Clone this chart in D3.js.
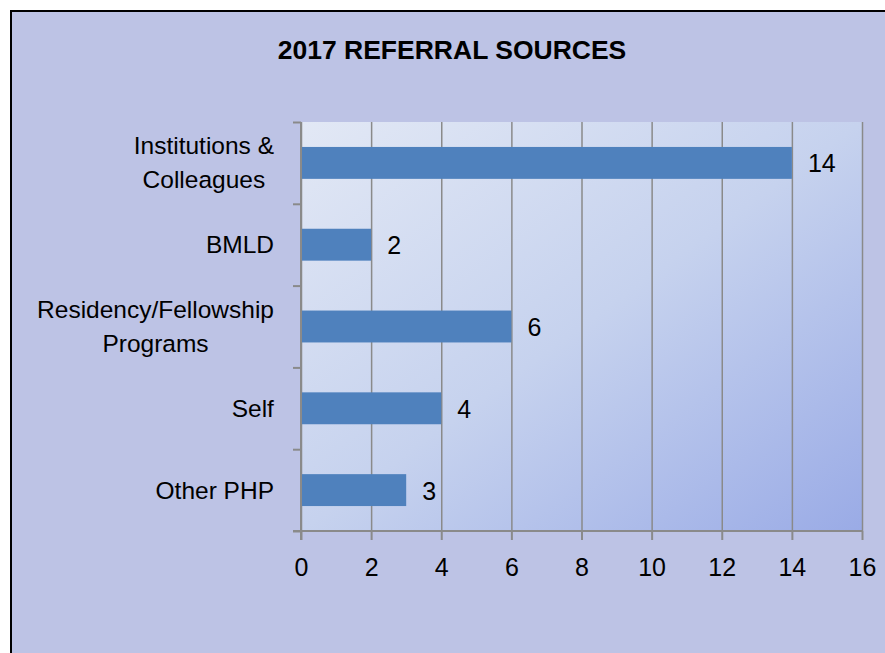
<!DOCTYPE html>
<html>
<head>
<meta charset="utf-8">
<script src="https://cdn.jsdelivr.net/npm/d3@7"></script>
<style>
  body { margin: 0; background: #fff; }
  svg { display: block; font-family: "Liberation Sans", Arial, sans-serif; }
</style>
</head>
<body>
<div id="chart"></div>
<script>
(function(){

  // data
  var title = "2017 REFERRAL SOURCES"
  var categories = ["Institutions &\nColleagues", "BMLD", "Residency/Fellowship\nPrograms", "Self", "Other PHP"]
  var values = [14, 2, 6, 4, 3]
  var xTicks = [0, 2, 4, 6, 8, 10, 12, 14, 16]

  var W = 885, H = 653
  var plot = { left: 301, right: 862, top: 122, bottom: 531 }

  var svg = d3.select("#chart").append("svg")
        .attr("width", W)
        .attr("height", H)

  var defs = svg.append("defs")
  var grad = defs.append("linearGradient")
        .attr("id", "plotGrad")
        .attr("x1", "0").attr("y1", "0")
        .attr("x2", "1").attr("y2", "1")
  grad.append("stop").attr("offset", "0").attr("stop-color", "#e2e8f5")
  grad.append("stop").attr("offset", "0.5").attr("stop-color", "#c6d2ee")
  grad.append("stop").attr("offset", "1").attr("stop-color", "#9aabe6")

  // outer frame
  svg.append("rect")
    .attr("x", 11).attr("y", 11)
    .attr("width", W).attr("height", H)
    .attr("fill", "#bdc3e5")
    .attr("stroke", "#000")
    .attr("stroke-width", 2)

  svg.append("text")
    .attr("x", 452)
    .attr("y", 59)
    .attr("text-anchor", "middle")
    .attr("font-weight", "bold")
    .attr("font-size", "26.5px")
    .attr("fill", "#000")
    .text(title)

  var x = d3.scaleLinear().domain([0, 16]).range([plot.left, plot.right])
  var y = d3.scaleBand().domain(categories)
        .range([plot.top, plot.bottom])
        .paddingInner(0.61).paddingOuter(0.305)

  svg.append("rect")
    .attr("x", plot.left).attr("y", plot.top)
    .attr("width", plot.right - plot.left)
    .attr("height", plot.bottom - plot.top)
    .attr("fill", "url(#plotGrad)")

  // vertical gridlines
  svg.append("g")
    .attr("transform", "translate(0," + plot.top + ")")
    .call(d3.axisBottom(x).tickValues(xTicks).tickSize(plot.bottom - plot.top).tickFormat(""))
    .call(function(g){
      g.select(".domain").remove()
      g.selectAll("line").attr("stroke", "#8a8a8a").attr("stroke-width", 1.5)
    })

  // bars
  svg.selectAll(".bar")
    .data(values)
    .enter().append("rect")
    .attr("class", "bar")
    .attr("x", x(0))
    .attr("y", function(d, i){ return y(categories[i]) })
    .attr("width", function(d){ return x(d) - x(0) })
    .attr("height", y.bandwidth())
    .attr("fill", "#4f81bd")

  svg.selectAll(".val")
    .data(values)
    .enter().append("text")
    .attr("class", "val")
    .attr("x", function(d){ return x(d) + 16 })
    .attr("y", function(d, i){ return y(categories[i]) + y.bandwidth() / 2 + 9.5 })
    .attr("font-size", "25px")
    .attr("fill", "#000")
    .text(function(d){ return d })

  // bottom axis
  svg.append("g")
    .attr("transform", "translate(0," + plot.bottom + ")")
    .call(d3.axisBottom(x).tickValues(xTicks).tickSize(9).tickPadding(18))
    .call(function(g){
      g.select(".domain").attr("stroke", "#8a8a8a").attr("stroke-width", 2)
        .attr("d", "M" + (plot.left - 8) + ",0H" + plot.right)
      g.selectAll("line").attr("stroke", "#8a8a8a").attr("stroke-width", 2)
      g.selectAll("text").attr("font-size", "25px").attr("fill", "#000")
        .attr("font-family", "Liberation Sans, Arial, sans-serif")
    })

  // left axis, ticks on the band edges
  var edge = d3.scaleLinear().domain([0, categories.length]).range([plot.top, plot.bottom])
  svg.append("g")
    .attr("transform", "translate(" + plot.left + ",0)")
    .call(d3.axisLeft(edge).ticks(categories.length).tickSize(8).tickFormat(""))
    .call(function(g){
      g.select(".domain").attr("stroke", "#8a8a8a").attr("stroke-width", 2)
        .attr("d", "M0," + plot.top + "V" + (plot.bottom + 9))
      g.selectAll("line").attr("stroke", "#8a8a8a").attr("stroke-width", 2)
    })

  // category labels, lines centred on each other, block right-aligned
  var labelRight = 274
  var lineH = 34
  categories.forEach(function(c){
    var lines = c.split("\n")
    var cy = y(c) + y.bandwidth() / 2
    var t = svg.append("text")
      .attr("font-size", "24.5px")
      .attr("fill", "#000")
      .attr("text-anchor", "middle")
    lines.forEach(function(l, k){
      t.append("tspan")
        .attr("x", 0)
        .attr("y", cy + 8.5 + (k - (lines.length - 1) / 2) * lineH)
        .text(l)
    })
    var w = t.node().getBBox().width
    t.selectAll("tspan").attr("x", labelRight - w / 2)
  })

})()
</script>
</body>
</html>
